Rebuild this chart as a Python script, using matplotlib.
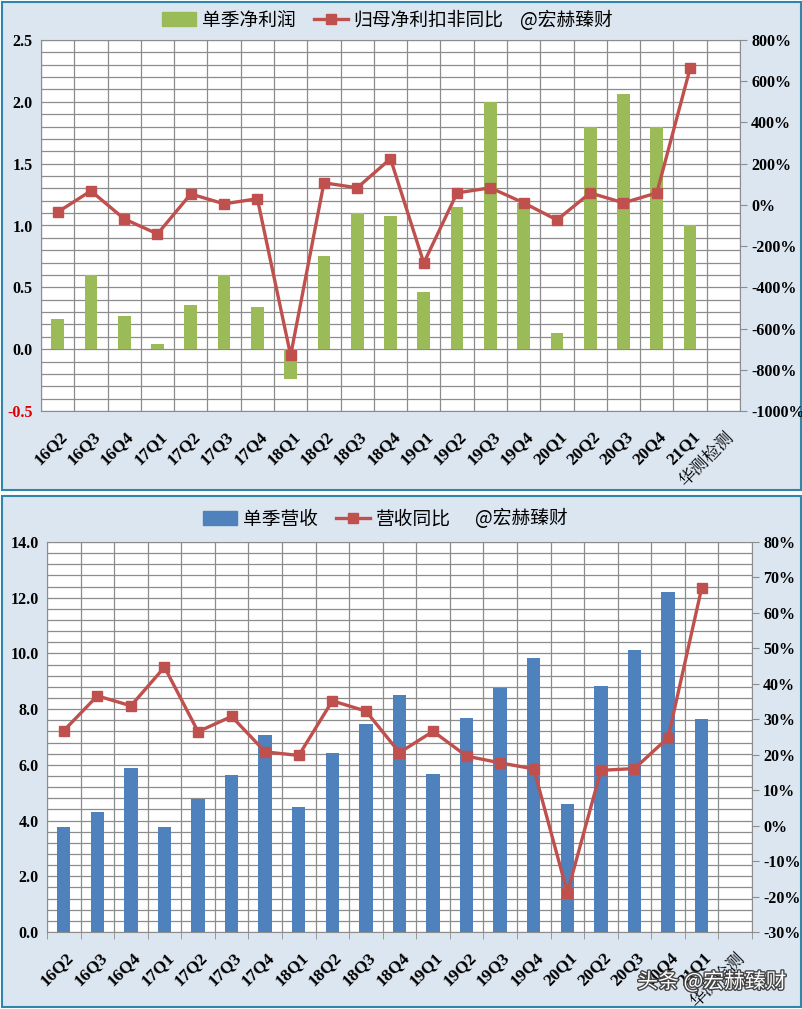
import numpy as np
import matplotlib
matplotlib.use("Agg")
import matplotlib.pyplot as plt
from matplotlib.patches import Rectangle, Patch
from matplotlib.lines import Line2D
from matplotlib.ticker import MultipleLocator, FixedLocator
import matplotlib.patheffects as pe

# 数据
quarters = ["16Q2", "16Q3", "16Q4", "17Q1", "17Q2", "17Q3", "17Q4", "18Q1", "18Q2", "18Q3",
            "18Q4", "19Q1", "19Q2", "19Q3", "19Q4", "20Q1", "20Q2", "20Q3", "20Q4", "21Q1"]
company = "华测检测"

profit = [0.24, 0.60, 0.27, 0.04, 0.36, 0.60, 0.34, -0.24, 0.75, 1.10,
          1.08, 0.46, 1.15, 2.00, 1.18, 0.13, 1.80, 2.06, 1.80, 1.00]
profit_yoy = [-35, 68, -68, -141, 53, 5, 30, -730, 107, 83,
              224, -282, 58, 83, 10, -73, 58, 10, 58, 662]

revenue = [3.77, 4.30, 5.88, 3.77, 4.76, 5.62, 7.08, 4.48, 6.41, 7.45,
           8.50, 5.66, 7.67, 8.76, 9.82, 4.58, 8.82, 10.11, 12.19, 7.63]
revenue_yoy = [26.8, 36.6, 33.8, 44.7, 26.5, 30.8, 20.8, 19.8, 35.2, 32.3,
               20.6, 26.6, 19.6, 17.7, 16.0, -18.9, 15.6, 16.1, 24.8, 67.0]

GREEN = "#9BBB59"
BLUE = "#4F81BD"
RED = "#C0504D"
BG = "#DCE6F1"
EDGE = "#2E86A8"
GRID = "#8C8C8C"

CJK = ["Noto Sans CJK SC", "DejaVu Sans"]
CJK_SERIF = ["Noto Serif CJK SC", "Noto Sans CJK SC", "DejaVu Sans"]
SERIF = ["Liberation Serif", "DejaVu Serif"]

W, H = 803, 1009
fig = plt.figure(figsize=(W / 100, H / 100), dpi=100)


def px_rect(x0, y0, x1, y1):
    return [x0 / W, 1 - y1 / H, (x1 - x0) / W, (y1 - y0) / H]


# 背景面板
for (x0, y0, x1, y1) in [(2, 2, 801, 490), (2, 496, 801, 1007)]:
    fig.patches.append(Rectangle((x0 / W, 1 - y1 / H), (x1 - x0) / W, (y1 - y0) / H,
                                 transform=fig.transFigure, facecolor=BG,
                                 edgecolor=EDGE, linewidth=1.5, zorder=-10))

labels = quarters + [company]
n = len(labels)
xs = np.arange(len(quarters))


def setup(ax, ax2, ymin, ymax, ymaj, ymin_step, rmin, rmax, rstep, fmt, xtick_len):
    ax.set_facecolor("white")
    ax.set_xlim(-0.5, n - 0.5)
    ax.set_ylim(ymin, ymax)
    ax.yaxis.set_major_locator(MultipleLocator(ymaj))
    ax.yaxis.set_minor_locator(MultipleLocator(ymin_step))
    ax.xaxis.set_major_locator(FixedLocator(np.arange(n)))
    ax.xaxis.set_minor_locator(FixedLocator(np.arange(n + 1) - 0.5))
    ax.set_xticklabels([])
    ax.grid(which="both", axis="y", color=GRID, linewidth=0.9)
    ax.grid(which="minor", axis="x", color=GRID, linewidth=0.9)
    ax.set_axisbelow(True)
    ax.tick_params(axis="x", which="major", length=0)
    ax.tick_params(axis="x", which="minor", length=xtick_len, color=GRID, direction="out")
    ax.tick_params(axis="y", which="both", length=0, pad=6)
    for t, lab in zip(range(n), labels):
        is_cjk = lab == company
        ax.annotate(lab, xy=(t, 0), xycoords=ax.get_xaxis_transform(),
                    xytext=(1, -12.5), textcoords="offset points",
                    rotation=45, ha="right", va="top", rotation_mode="anchor",
                    fontsize=12.5, fontweight="normal" if is_cjk else "bold",
                    family=CJK_SERIF if is_cjk else SERIF)
    for s in ax.spines.values():
        s.set_color(GRID)
    ax2.set_ylim(rmin, rmax)
    ax2.set_yticks(np.arange(rmin, rmax + 1, rstep))
    ax2.set_yticklabels([fmt(v) for v in np.arange(rmin, rmax + 1, rstep)],
                        family=SERIF, fontweight="bold", fontsize=11.5)
    ax2.tick_params(axis="y", length=5, color=GRID, pad=3)
    for s in ax2.spines.values():
        s.set_visible(False)


def legend(handles, names, cx, cy, tag_x):
    fig.legend(handles=handles, labels=names, loc="center",
               bbox_to_anchor=(cx / W, 1 - cy / H), ncol=2, frameon=False,
               prop={"family": CJK, "size": 13.5}, handlelength=1.8,
               handletextpad=0.3, columnspacing=1.0)
    fig.text(tag_x / W, 1 - cy / H, "@宏赫臻财", ha="left", va="center",
             fontsize=13.5, family=CJK)


# 上图：净利润
ax1 = fig.add_axes(px_rect(41, 40, 740, 411))
ax1b = ax1.twinx()
ax1.bar(xs, profit, width=0.38, color=GREEN, zorder=2)
ax1b.plot(xs, profit_yoy, color=RED, linewidth=2.4, marker="s", markersize=7,
          markerfacecolor=RED, markeredgecolor=RED)
setup(ax1, ax1b, -0.5, 2.5, 0.5, 0.1, -1000, 800, 200, lambda v: f"{v:.0f}%", 0)
ax1.set_yticks(np.arange(-0.5, 2.51, 0.5))
ax1.set_yticklabels([f"{v:.1f}" for v in np.arange(-0.5, 2.51, 0.5)],
                    family=SERIF, fontweight="bold", fontsize=11.5)
ax1.get_yticklabels()[0].set_color("#E00000")

legend([Patch(color=GREEN),
        Line2D([], [], color=RED, linewidth=2.4, marker="s", markersize=7)],
       ["单季净利润", "归母净利扣非同比"], 333, 20, 520)

# 下图：营收
ax2 = fig.add_axes(px_rect(47, 542, 752, 932))
ax2b = ax2.twinx()
ax2.bar(xs, revenue, width=0.4, color=BLUE, zorder=2)
ax2b.plot(xs, revenue_yoy, color=RED, linewidth=2.4, marker="s", markersize=7,
          markerfacecolor=RED, markeredgecolor=RED)
setup(ax2, ax2b, 0, 14, 2, 0.4, -30, 80, 10, lambda v: f"{v:.0f}%", 5)
ax2.set_yticks(np.arange(0, 14.1, 2))
ax2.set_yticklabels([f"{v:.1f}" for v in np.arange(0, 14.1, 2)],
                    family=SERIF, fontweight="bold", fontsize=11.5)

legend([Patch(color=BLUE),
        Line2D([], [], color=RED, linewidth=2.4, marker="s", markersize=7)],
       ["单季营收", "营收同比"], 327, 519, 475)

# 水印
fig.text(712 / W, 1 - 982 / H, "头条 @宏赫臻财", ha="center", va="center",
         fontsize=15, family=CJK, color="white",
         path_effects=[pe.withStroke(linewidth=2, foreground="#444444")])

fig.savefig("out.png", dpi=100)
